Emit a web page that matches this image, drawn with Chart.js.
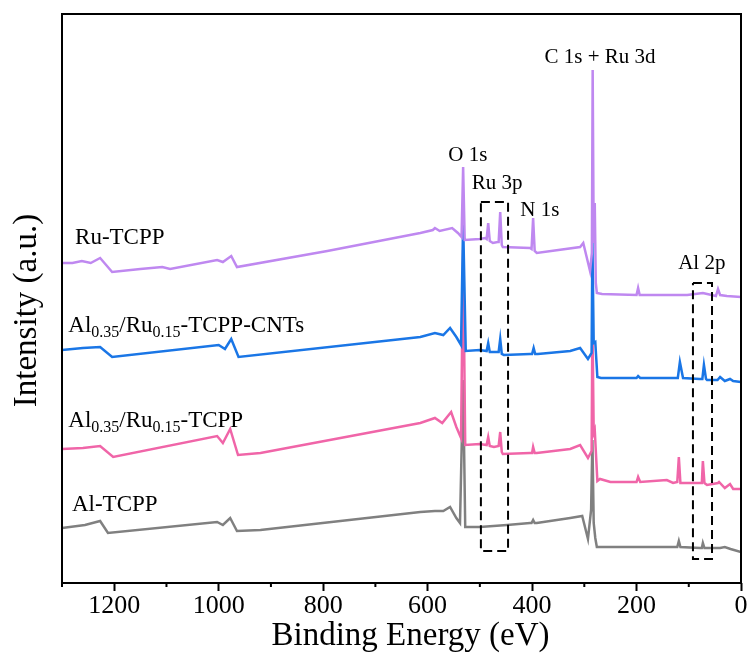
<!DOCTYPE html>
<html>
<head>
<meta charset="utf-8">
<script src="https://cdn.jsdelivr.net/npm/chart.js@4.4.1/dist/chart.umd.min.js"></script>
<style>
  html, body { margin: 0; padding: 0; background: #fff; }
  #wrap { width: 753px; height: 661px; }
</style>
</head>
<body>
<div id="wrap"><canvas id="xps"></canvas></div>
<script>
// XPS survey spectra, binding energy (eV) vs stacked intensity (a.u.)
const ruEnergy = [1300,1280,1262,1245,1227,1204,1150,1108,1093,1003,992,976,965,792,614,590,586,577,553,542,535,532,529,500,490,487,484,481,475,466,464,461,458,456,404,401,398,395,391,308,302,289,285.5,284,282,280,278,276,266,200,197,194,103,73,48,44,40,27,0];
const ruIntensity = [320,320,322,320,325,311,314,316,314,323,321,327,316,332,350,353,355,352,355,350,346,416,343,344,345,344,360,342,340,341,341,371,338,336,335,334,365,332,330,336,340,312,330,513,340,380,300,290,289,288,295,288,288,290,287,294,288,287,286];

const cntEnergy = [1300,1260,1227,1204,1000,988,976,962,614,586,570,557,545,536,532,527,500,487,484,481,475,464,461,458,454,404,400,397,394,389,327,308,293,286,284.5,282,279,275,268,200,197,193,136,121,117,111,79,74,71,67,65,45,40,31,21,15,0];
const cntIntensity = [233,235,236,226,238,234,244,226,246,250,248,255,246,238,361,232,233,232,240,231,231,231,244,229,228,229,229,235,229,229,232,235,224,230,340,240,241,206,205,205,207,205,205,205,221,205,204,204,218,204,203,203,206,202,204,202,201];

const alruEnergy = [1300,1260,1227,1202,1003,992,978,963,920,614,586,572,555,545,536,532,528,500,487,484,481,473,464,461,458,456,404,400,398,395,391,327,308,293,286,284.5,282,280,275,270,250,200,197,193,142,130,122,119,116,111,78,75,73,70,65,44,42,31,21,15,0];
const alruIntensity = [134,135,137,126,147,140,154,128,130,160,165,160,171,156,145,333,138,139,138,146,137,136,137,151,131,129,130,130,136,130,130,134,138,125,132,263,150,153,102,104,101,101,106,101,103,100,101,126,100,100,100,100,122,100,98,100,101,95,99,94,94];

const alEnergy = [1300,1256,1227,1212,1003,992,978,965,920,614,586,570,557,545,538,532,528,500,448,404,401,398,395,391,327,304,293,287,284.5,282,279,276,200,182,122,119,116,78,75,73,70,40,31,20,0];
const alIntensity = [55,58,62,50,61,58,65,52,53,71,72,72,76,65,60,203,56,56,58,60,60,63,60,60,65,67,44,73,143,60,45,36,36,36,36,42,36,35,35,40,35,35,36,34,31];

// dashed boxes around Ru 3p and Al 2p
const ru3pBoxEnergy = [498, 446, 446, 498, 498];
const ru3pBoxIntensity = [381, 381, 32, 32, 381];
const al2pBoxEnergy = [92, 55.5, 55.5, 92, 92];
const al2pBoxIntensity = [300, 300, 24, 24, 300];

const tickValues = [0, 200, 400, 600, 800, 1000, 1200];
const tickLabels = ['0', '200', '400', '600', '800', '1000', '1200'];
const minorTickValues = [100, 300, 500, 700, 900, 1100, 1300];

// sample names ([text, subscript?] parts) and peak names
const sampleNames = [
    [['Ru-TCPP', false]],
    [['Al', false], ['0.35', true], ['/Ru', false], ['0.15', true], ['-TCPP-CNTs', false]],
    [['Al', false], ['0.35', true], ['/Ru', false], ['0.15', true], ['-TCPP', false]],
    [['Al-TCPP', false]]
];
const sampleNameEnergy = [1275, 1288, 1288, 1281];
const sampleNameIntensity = [345, 257, 162, 78];

const peakNames = ['O 1s', 'Ru 3p', 'N 1s', 'C 1s + Ru 3d', 'Al 2p'];
const peakNameEnergy = [523, 467, 385, 270, 75];
const peakNameIntensity = [428, 400, 373, 526, 320];

const FONT = '"Liberation Serif", "Times New Roman", serif';

const pts = (xs, ys) => xs.map((x, i) => ({ x: x, y: ys[i] }));

function spectrum(label, xs, ys, color) {
    return {
        label: label,
        data: pts(xs, ys),
        borderColor: color,
        borderWidth: 2.5,
        pointRadius: 0,
        tension: 0,
        fill: false
    };
}

function dashedBox(xs, ys) {
    return {
        data: pts(xs, ys),
        borderColor: '#000',
        borderWidth: 2,
        borderDash: [9, 5],
        pointRadius: 0,
        tension: 0,
        fill: false
    };
}

const decorations = {
    id: 'decorations',
    afterDatasetsDraw(chart) {
        const { ctx, chartArea: a, scales: { x, y } } = chart;
        ctx.save();
        ctx.fillStyle = '#000';
        ctx.textBaseline = 'middle';

        // sample names
        ctx.textAlign = 'left';
        sampleNames.forEach((parts, i) => {
            let cx = x.getPixelForValue(sampleNameEnergy[i]);
            const cy = y.getPixelForValue(sampleNameIntensity[i]);
            parts.forEach(([t, sub]) => {
                ctx.font = (sub ? 16 : 23) + 'px ' + FONT;
                ctx.fillText(t, cx, sub ? cy + 7 : cy);
                cx += ctx.measureText(t).width;
            });
        });

        // peak names
        ctx.textAlign = 'center';
        ctx.font = '21px ' + FONT;
        peakNames.forEach((t, i) => {
            ctx.fillText(t, x.getPixelForValue(peakNameEnergy[i]), y.getPixelForValue(peakNameIntensity[i]));
        });

        // axis titles
        ctx.font = '33px ' + FONT;
        ctx.fillText('Binding Energy (eV)', a.left + (a.right - a.left) / 2 + 9, a.bottom + 53);
        ctx.save();
        ctx.translate(27, a.top + (a.bottom - a.top) / 2 + 12);
        ctx.rotate(-Math.PI / 2);
        ctx.fillText('Intensity (a.u.)', 0, 0);
        ctx.restore();

        // frame
        ctx.strokeStyle = '#000';
        ctx.lineWidth = 2;
        ctx.strokeRect(a.left, a.top, a.right - a.left, a.bottom - a.top);

        // minor ticks
        ctx.beginPath();
        minorTickValues.forEach(v => {
            const px = x.getPixelForValue(v);
            ctx.moveTo(px, a.bottom);
            ctx.lineTo(px, a.bottom + 4);
        });
        ctx.stroke();
        ctx.restore();
    }
};

new Chart(document.getElementById('xps'), {
    type: 'line',
    data: {
        datasets: [
            dashedBox(ru3pBoxEnergy, ru3pBoxIntensity),
            dashedBox(al2pBoxEnergy, al2pBoxIntensity),
            spectrum('Ru-TCPP', ruEnergy, ruIntensity, '#BF88F0'),
            spectrum('Al0.35/Ru0.15-TCPP-CNTs', cntEnergy, cntIntensity, '#1A76E6'),
            spectrum('Al0.35/Ru0.15-TCPP', alruEnergy, alruIntensity, '#F065A8'),
            spectrum('Al-TCPP', alEnergy, alIntensity, '#808080')
        ]
    },
    options: {
        responsive: true,
        maintainAspectRatio: false,
        animation: false,
        layout: { padding: { top: 14, right: 12, left: 0, bottom: 0 } },
        plugins: { legend: { display: false }, tooltip: { enabled: false } },
        scales: {
            x: {
                type: 'linear',
                reverse: true,
                min: 0,
                max: 1300,
                afterBuildTicks: s => { s.ticks = tickValues.map(v => ({ value: v })); },
                afterFit: s => { s.height = 78; },
                grid: { drawOnChartArea: false, drawTicks: true, tickLength: 8, tickWidth: 2, tickColor: '#000' },
                border: { display: false },
                ticks: {
                    color: '#000',
                    font: { family: FONT, size: 26 },
                    padding: 0,
                    maxRotation: 0,
                    autoSkip: false,
                    callback: (v, i) => tickLabels[i]
                }
            },
            y: {
                min: 0,
                max: 569,
                afterFit: s => { s.width = 62; },
                grid: { display: false },
                border: { display: false },
                ticks: { display: false }
            }
        }
    },
    plugins: [decorations]
});
</script>
</body>
</html>
